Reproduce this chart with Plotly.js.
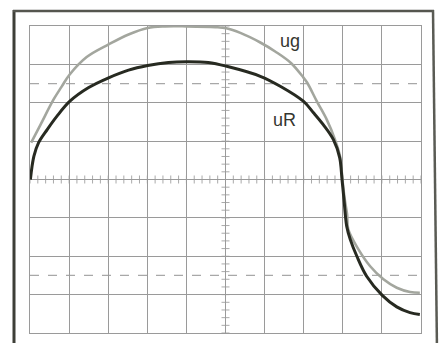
<!DOCTYPE html>
<html>
<head>
<meta charset="utf-8">
<script src="https://cdn.plot.ly/plotly-3.0.1.min.js"></script>
<style>html,body{margin:0;padding:0;background:#fff;}#chart{width:440px;height:343px;}</style>
</head>
<body>
<div id="chart"></div>
<script>
// Oscilloscope traces, in screen divisions (x: 0..10, y: -4..4)
const ugX = [0.03, 0.27, 0.60, 0.81, 1.01, 1.45, 2.01, 2.52, 3.01, 3.46, 4.00, 4.74, 5.02, 5.38, 5.89, 6.28, 6.68, 6.99, 7.09, 7.34, 7.59, 7.80, 7.93, 7.99, 8.05, 8.11, 8.14, 8.40, 8.70, 9.04, 9.38, 9.72, 9.97];
const ugY = [0.96, 1.43, 2.08, 2.42, 2.73, 3.19, 3.52, 3.78, 3.95, 3.99, 3.99, 3.97, 3.94, 3.82, 3.57, 3.33, 3.03, 2.66, 2.52, 2.03, 1.56, 1.04, 0.60, 0.00, -0.52, -0.91, -1.30, -1.82, -2.26, -2.60, -2.82, -2.93, -2.95];
const uRX = [0.01, 0.10, 0.22, 0.44, 0.69, 1.02, 1.49, 2.01, 2.52, 3.01, 3.54, 4.01, 4.56, 5.03, 5.89, 6.40, 6.99, 7.25, 7.50, 7.76, 7.92, 7.98, 8.03, 8.10, 8.19, 8.36, 8.61, 9.01, 9.38, 9.72, 9.97];
const uRY = [0.00, 0.61, 0.96, 1.30, 1.65, 2.04, 2.39, 2.65, 2.85, 2.97, 3.05, 3.07, 3.05, 2.95, 2.69, 2.43, 2.04, 1.74, 1.43, 1.04, 0.57, 0.00, -0.52, -1.22, -1.56, -2.00, -2.52, -3.02, -3.32, -3.47, -3.52];
const labels = ["ug", "uR"];
const labelX = [6.65, 6.52];
const labelY = [3.60, 1.56];
const dashLevels = [2.5, -2.5];

const gridCol = '#9a9a9a';
const shapes = [];
// dashed reference levels
dashLevels.forEach(v => shapes.push({type:'line', xref:'paper', x0:0, x1:1, yref:'y', y0:v, y1:v,
  line:{color:'#a8a8a8', width:1.2, dash:'dash'}, layer:'below'}));
// minor ticks on centre axes (5 per division)
for (let i = 0; i <= 50; i++) {
  const xv = i / 5;
  shapes.push({type:'line', xref:'x', yref:'y', x0:xv, x1:xv, ysizemode:'pixel', yanchor:0, y0:-4, y1:4,
    line:{color:'#aaaaaa', width:1}, layer:'below'});
}
for (let i = 0; i <= 40; i++) {
  const yv = -4 + i / 5;
  shapes.push({type:'line', xref:'x', yref:'y', y0:yv, y1:yv, xsizemode:'pixel', xanchor:5, x0:-4, x1:4,
    line:{color:'#aaaaaa', width:1}, layer:'below'});
}
// photographed outer frame
const px = p => (p - 30) / 391, py = p => (333 - p) / 307;
shapes.push({type:'line', xref:'paper', yref:'paper', x0:px(14), x1:px(14), y0:py(10), y1:py(350), line:{color:'#3e3f38', width:3}});
shapes.push({type:'line', xref:'paper', yref:'paper', x0:px(13), x1:px(434), y0:py(11), y1:py(11), line:{color:'#55564f', width:2.5}});
shapes.push({type:'line', xref:'paper', yref:'paper', x0:px(433), x1:px(437), y0:py(10), y1:py(350), line:{color:'#5a5b54', width:2.5}});

const data = [
  {x: ugX, y: ugY, type:'scatter', mode:'lines', name:'ug', line:{color:'#a3a69e', width:2.6, shape:'spline', smoothing:1}, hoverinfo:'skip'},
  {x: uRX, y: uRY, type:'scatter', mode:'lines', name:'uR', line:{color:'#272a21', width:3, shape:'spline', smoothing:1}, hoverinfo:'skip'}
];

const layout = {
  width: 440, height: 343,
  margin: {l:30, r:19, t:26, b:10, pad:0},
  paper_bgcolor:'#ffffff', plot_bgcolor:'#ffffff',
  showlegend:false,
  xaxis: {range:[0,10], dtick:1, tick0:0, showgrid:true, gridcolor:gridCol, gridwidth:1,
          showticklabels:false, ticks:'', zeroline:false, showline:true, mirror:true, linecolor:gridCol, linewidth:1, fixedrange:true},
  yaxis: {range:[-4,4], dtick:1, tick0:0, showgrid:true, gridcolor:gridCol, gridwidth:1,
          showticklabels:false, ticks:'', zeroline:false, showline:true, mirror:true, linecolor:gridCol, linewidth:1, fixedrange:true},
  shapes: shapes,
  annotations: labels.map((t, i) => ({x: labelX[i], y: labelY[i], xref:'x', yref:'y', text:t, showarrow:false,
    font:{family:'Liberation Sans, Arial, sans-serif', size:18, color:'#35362f'}}))
};

Plotly.newPlot('chart', data, layout, {staticPlot:true, displayModeBar:false});
</script>
</body>
</html>
